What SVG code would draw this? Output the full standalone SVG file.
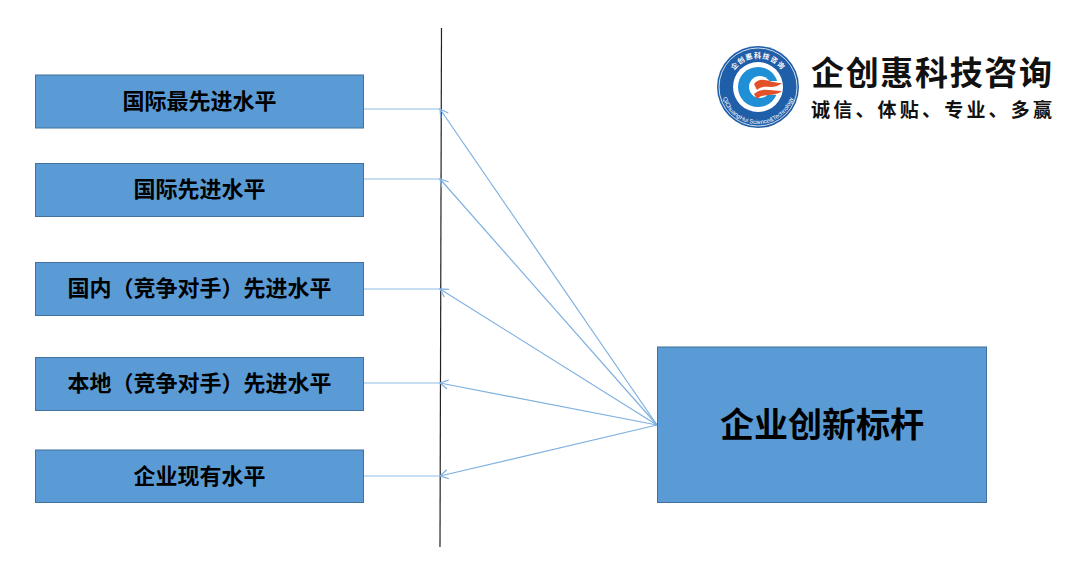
<svg xmlns="http://www.w3.org/2000/svg" width="1080" height="565" viewBox="0 0 1080 565">
<style>
.box{fill:#5b9bd5;stroke:#41719c;stroke-width:1}
.lbl{font-family:"Liberation Sans","Noto Sans CJK SC",sans-serif;font-weight:700;fill:#000;text-anchor:middle}
.s{font-size:22px}
.p{font-family:"Noto Sans CJK TC",sans-serif}
.con{fill:none;stroke:#8fbbe6;stroke-width:1.2}
.arr{fill:none;stroke:#7fb0e0;stroke-width:1.2;marker-end:url(#a)}
.brand{font-family:"Noto Sans CJK SC",sans-serif;font-weight:700;fill:#111}
</style>
<defs>
<marker id="a" markerUnits="userSpaceOnUse" markerWidth="12" markerHeight="12" refX="10" refY="6" orient="auto">
<path d="M2 1.500L10 6L2 10.500" fill="none" stroke="#7fb0e0" stroke-width="1.200"/>
</marker>
<path id="top" d="M729 87A29 29 0 0 1 787 87"/>
<path id="bot" d="M721 87A37 37 0 0 0 795 87"/>
</defs>
<rect width="1080" height="565" fill="#fff"/>
<g id="connectors">
<line x1="441.500" y1="28" x2="440" y2="547" stroke="#222" stroke-width="1.200"/>
<path class="con" d="M363 109H440"/>
<path class="con" d="M363 179H440"/>
<path class="con" d="M363 289H440"/>
<path class="con" d="M363 383H440"/>
<path class="con" d="M363 476H440"/>
<path class="arr" d="M657 425L440 109"/>
<path class="arr" d="M657 425L440 179"/>
<path class="arr" d="M657 425L440 289"/>
<path class="arr" d="M657 425L440 383"/>
<path class="arr" d="M657 425L440 476"/>
</g>
<g id="n1"><rect class="box" x="35.500" y="75" width="328" height="53"/><text class="lbl s" x="199.500" y="109">国际最先进水平</text></g>
<g id="n2"><rect class="box" x="35.500" y="163.500" width="328" height="53"/><text class="lbl s" x="199.500" y="197">国际先进水平</text></g>
<g id="n3"><rect class="box" x="35.500" y="262.500" width="328" height="53"/><text class="lbl s" x="199.500" y="296">国内<tspan class="p">（</tspan>竞争对手<tspan class="p">）</tspan>先进水平</text></g>
<g id="n4"><rect class="box" x="35.500" y="357.500" width="328" height="53"/><text class="lbl s" x="199.500" y="391">本地<tspan class="p">（</tspan>竞争对手<tspan class="p">）</tspan>先进水平</text></g>
<g id="n5"><rect class="box" x="35.500" y="450" width="328" height="52.500"/><text class="lbl s" x="199.500" y="484">企业现有水平</text></g>
<g id="n6"><rect class="box" x="657.500" y="347" width="329" height="155.500"/><text class="lbl" x="822" y="437" font-size="34">企业创新标杆</text></g>
<g id="logo">
<circle cx="758" cy="87" r="41" fill="#1f5ea8"/>
<circle cx="758" cy="87" r="39" fill="none" stroke="#fff" stroke-width="0.800"/>
<circle cx="758" cy="87" r="25" fill="#fff"/>
<circle cx="758" cy="87" r="20" fill="#1f8fd6"/>
<circle cx="760" cy="87" r="11" fill="#fff"/>
<rect x="766" y="81" width="16" height="14" fill="#fff"/>
<path d="M754 84C761 75 769 83 782 83C773 91 764 83 757 90Z" fill="#e2512a"/>
<path d="M754 94C761 87 769 91 782 91C773 98 764 92 757 99Z" fill="#e2512a"/>
<text font-family="Noto Sans CJK SC,sans-serif" font-size="7" font-weight="700" fill="#fff" letter-spacing="1"><textPath href="#top" startOffset="50%" text-anchor="middle">企创惠科技咨询</textPath></text>
<text font-family="Liberation Sans,sans-serif" font-size="6" fill="#fff"><textPath href="#bot" startOffset="50%" text-anchor="middle">QiChuangHui Science&amp;Technology</textPath></text>
<text class="brand" x="811" y="84.800" font-size="33" textLength="241" lengthAdjust="spacing">企创惠科技咨询</text>
<text class="brand" x="811" y="116.500" font-size="19" textLength="241" lengthAdjust="spacing">诚信、体贴、专业、多赢</text>
</g>
</svg>
